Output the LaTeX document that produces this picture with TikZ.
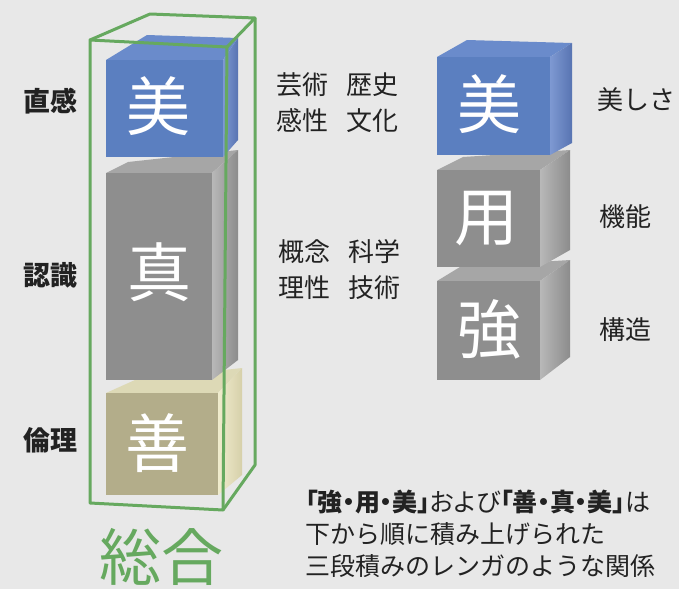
\documentclass[tikz,border=0pt]{standalone}
\usepackage{fontspec}
\setmainfont{Noto Sans CJK JP}
\newfontfamily\jpp[RawFeature=+palt]{Noto Sans CJK JP}
\definecolor{bg}{HTML}{E8E8E8}
\definecolor{grn}{HTML}{66A95F}
\definecolor{bluF}{HTML}{5B7FC0}
\definecolor{bluT}{HTML}{6A8BCB}
\definecolor{bluSa}{HTML}{7E99D2}
\definecolor{bluSb}{HTML}{5874B2}
\definecolor{gryF}{HTML}{8E8E8E}
\definecolor{gryT}{HTML}{A6A6A6}
\definecolor{grySa}{HTML}{B8B8B8}
\definecolor{grySb}{HTML}{8C8C8C}
\definecolor{tanF}{HTML}{B3AD8A}
\definecolor{tanT}{HTML}{DDD9B6}
\definecolor{tanSa}{HTML}{F0ECCD}
\definecolor{tanSb}{HTML}{D6D0AA}
\definecolor{txt}{HTML}{222222}
\tikzset{
  glyph/.style={text=white,inner sep=0pt,font=\fontsize{64}{64}\selectfont},
  lab/.style={text=txt,inner sep=0pt,font=\bfseries\fontsize{27}{27}\selectfont},
  mid/.style={text=txt,inner sep=0pt,anchor=west,font=\fontsize{26}{26}\selectfont},
  note/.style={text=txt,inner sep=0pt,anchor=west,font=\fontsize{25}{25}\selectfont},
  frame/.style={draw=grn,line width=3pt,line join=round}
}
\begin{document}
\begin{tikzpicture}[x=1pt,y=-1pt]
\fill[bg] (0,0) rectangle (679,589);
\useasboundingbox (0,0) rectangle (679,589);
% ---------- left column ----------
% tan cube
\fill[tanT] (106,393) -- (135,380) -- (242,368) -- (218,393) -- cycle;
\shade[left color=tanSa,right color=tanSb] (218,393) -- (242,368) -- (242,475) -- (218,495) -- cycle;
\fill[tanF] (106,393) rectangle (218,495);
% gray cube
\fill[gryT] (106,173) -- (128,162) -- (238,150) -- (212,173) -- cycle;
\shade[left color=grySa,right color=grySb] (212,173) -- (238,150) -- (238,360) -- (212,380) -- cycle;
\fill[gryF] (106,173) rectangle (212,380);
% blue cube
\fill[bluT] (106,60) -- (147,35) -- (238,38) -- (223,60) -- cycle;
\shade[left color=bluSa,right color=bluSb] (223,60) -- (238,38) -- (238,140) -- (223,157) -- cycle;
\fill[bluF] (106,60) rectangle (223,157);
\node[glyph] (gbi) at (158,106) {美};
\node[glyph] (gshin) at (159,272) {真};
\node[glyph] (gzen) at (157,443) {善};
% green frame
\draw[frame] (90,40) -- (227,47) -- (223,510) -- (90,503) -- cycle;
\draw[frame] (90,40) -- (150,14) -- (255,18) -- (227,47);
\draw[frame] (255,18) -- (255,465) -- (223,510);
\node[text=grn,inner sep=0pt,font=\fontsize{62}{62}\selectfont] (sogo) at (161,557) {総合};
% left labels
\node[lab] (l1) at (50,101) {直感};
\node[lab] (l2) at (50,275) {認識};
\node[lab] (l3) at (50,440) {倫理};
% middle labels
\node[mid] (m1) at (276,85) {芸術\hspace{18pt}歴史};
\node[mid] (m2) at (276,121) {感性\hspace{18pt}文化};
\node[mid] (m3) at (278,252) {概念\hspace{18pt}科学};
\node[mid] (m4) at (278,288) {理性\hspace{18pt}技術};
% ---------- right column ----------
% 強
\fill[gryT] (437,281) -- (460,267) -- (570,260) -- (540,281) -- cycle;
\shade[left color=grySa,right color=grySb] (540,281) -- (570,260) -- (570,357) -- (540,380) -- cycle;
\fill[gryF] (437,281) rectangle (540,380);
% 用
\fill[gryT] (437,170) -- (463,157) -- (570,150) -- (540,170) -- cycle;
\shade[left color=grySa,right color=grySb] (540,170) -- (570,150) -- (570,250) -- (540,267) -- cycle;
\fill[gryF] (437,170) rectangle (540,267);
% 美
\fill[bluT] (437,57) -- (467,40) -- (572,43) -- (550,57) -- cycle;
\shade[left color=bluSa,right color=bluSb] (550,57) -- (572,43) -- (572,143) -- (550,155) -- cycle;
\fill[bluF] (437,57) rectangle (550,155);
\node[glyph] (rbi) at (489,104) {美};
\node[glyph] (ryo) at (486,219) {用};
\node[glyph] (rkyo) at (489,329) {強};
% right labels
\node[mid] (r1) at (597,100) {美しさ};
\node[mid] (r2) at (599,217) {機能};
\node[mid] (r3) at (599,330) {構造};
% bottom note
\node[note,font=\jpp\fontsize{25}{25}\selectfont] (n1) at (305,502) {\textbf{「強・用・美」}および\textbf{「善・真・美」}は};
\node[note] (n2) at (305,534) {下から順に積み上げられた};
\node[note] (n3) at (305,566) {三段積みのレンガのような関係};
\end{tikzpicture}
\end{document}
